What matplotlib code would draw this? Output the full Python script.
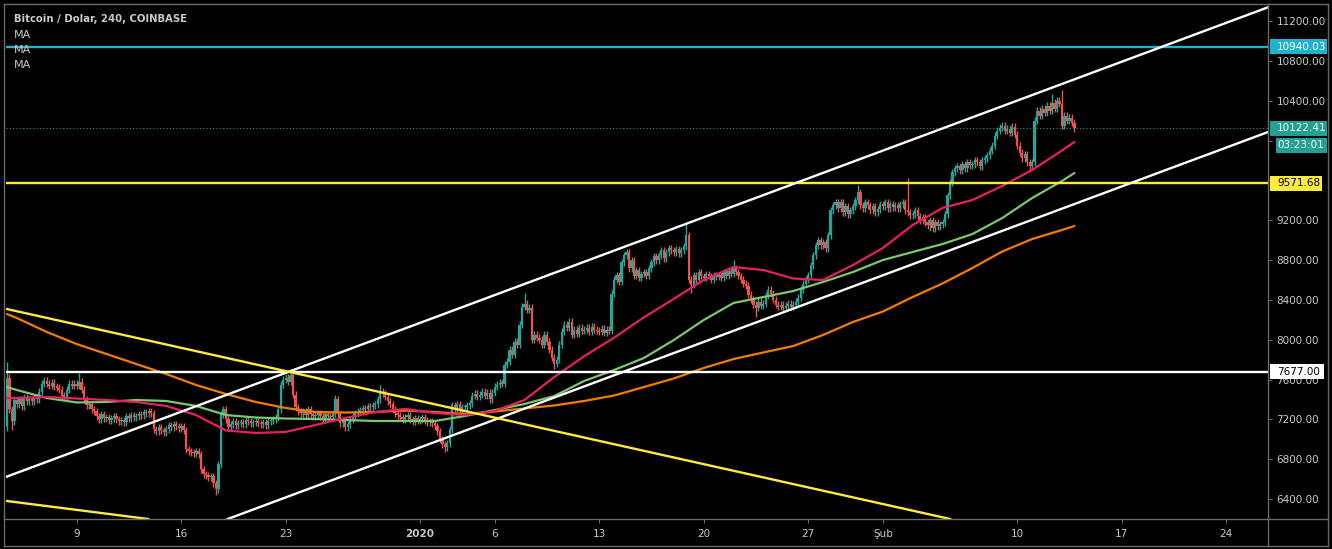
import matplotlib
matplotlib.use('Agg')
import matplotlib.pyplot as plt
import matplotlib.dates as mdates
from matplotlib.lines import Line2D
from matplotlib.patches import Rectangle
import numpy as np
import pandas as pd

# ---------------- data ----------------
first_open = 7120
closes_dec = [
    7620, 7300, 7180, 7390,                      # Dec 4 (from 08:00)
    7350, 7400, 7330, 7420, 7380, 7400,          # Dec 5
    7380, 7420, 7400, 7480, 7560, 7590,          # Dec 6
    7560, 7540, 7570, 7530, 7520, 7500,          # Dec 7
    7440, 7430, 7500, 7560, 7540, 7560,          # Dec 8
    7540, 7580, 7500, 7400, 7340, 7350,          # Dec 9
    7300, 7280, 7230, 7200, 7250, 7210,          # Dec 10
    7220, 7190, 7210, 7230, 7200, 7180,          # Dec 11
    7190, 7170, 7230, 7210, 7240, 7220,          # Dec 12
    7230, 7250, 7240, 7270, 7260, 7280,          # Dec 13
    7260, 7100, 7080, 7120, 7090, 7070,          # Dec 14
    7100, 7140, 7120, 7150, 7130, 7110,          # Dec 15
    7130, 7090, 6900, 6880, 6870, 6860,          # Dec 16
    6880, 6850, 6700, 6650, 6640, 6620,          # Dec 17
    6630, 6560, 6500, 6750, 7250, 7300,          # Dec 18
    7200, 7120, 7150, 7180, 7140, 7160,          # Dec 19
    7170, 7150, 7190, 7180, 7160, 7170,          # Dec 20
    7180, 7160, 7150, 7170, 7140, 7180,          # Dec 21
    7190, 7200, 7220, 7300, 7550, 7600,          # Dec 22
    7620, 7580, 7650, 7450, 7320, 7280,          # Dec 23
    7260, 7280, 7240, 7300, 7250, 7230,          # Dec 24
    7240, 7260, 7230, 7210, 7250, 7230,          # Dec 25
    7220, 7260, 7400, 7250, 7160, 7180,          # Dec 26
    7120, 7150, 7200, 7230, 7260, 7280,          # Dec 27
    7290, 7310, 7300, 7330, 7320, 7340,          # Dec 28
    7350, 7400, 7480, 7460, 7430, 7380,          # Dec 29
    7350, 7300, 7260, 7240, 7220, 7200,          # Dec 30
    7220, 7240, 7200, 7180, 7210, 7190,          # Dec 31
]
closes_jan = [
    7200, 7220, 7190, 7170, 7180, 7160,          # Jan 1
    7130, 7080, 7000, 6950, 6920, 6960,          # Jan 2
    7100, 7340, 7310, 7350, 7300, 7320,          # Jan 3
    7320, 7340, 7360, 7440, 7460, 7430,          # Jan 4
    7450, 7480, 7440, 7470, 7400, 7470,          # Jan 5
    7530, 7550, 7570, 7560, 7750, 7780,          # Jan 6
    7900, 7850, 7980, 7950, 8150, 8330,          # Jan 7
    8360, 8300, 8320, 8000, 8050, 8020,          # Jan 8
    8000, 7950, 8050, 7980, 7900, 7820,          # Jan 9
    7760, 7800, 7950, 8080, 8150, 8120,          # Jan 10
    8180, 8050, 8100, 8060, 8120, 8090,          # Jan 11
    8100, 8120, 8080, 8130, 8100, 8090,          # Jan 12
    8080, 8110, 8070, 8100, 8090, 8460,          # Jan 13
    8600, 8650, 8580, 8780, 8850, 8880,          # Jan 14
    8720, 8800, 8640, 8700, 8620, 8660,          # Jan 15
    8680, 8640, 8720, 8780, 8840, 8800,          # Jan 16
    8850, 8900, 8820, 8880, 8920, 8900,          # Jan 17
    8880, 8910, 8870, 8900, 8940, 9050,          # Jan 18
    8600, 8550, 8650, 8600, 8680, 8640,          # Jan 19
    8620, 8660, 8640, 8600, 8650, 8630,          # Jan 20
    8650, 8620, 8680, 8640, 8690, 8660,          # Jan 21
    8720, 8680, 8640, 8600, 8560, 8540,          # Jan 22
    8450, 8400, 8350, 8320, 8380, 8340,          # Jan 23
    8360, 8440, 8500, 8460, 8400, 8350,          # Jan 24
    8330, 8350, 8320, 8340, 8360, 8330,          # Jan 25
    8350, 8380, 8420, 8500, 8560, 8600,          # Jan 26
    8650, 8750, 8850, 8950, 9000, 8950,          # Jan 27
    8980, 8920, 9050, 9300, 9350, 9380,          # Jan 28
    9320, 9380, 9280, 9340, 9260, 9300,          # Jan 29
    9340, 9400, 9480, 9350, 9320, 9380,          # Jan 30
    9350, 9300, 9340, 9280, 9310, 9360,          # Jan 31
]
closes_feb = [
    9340, 9380, 9320, 9360, 9330, 9350,          # Feb 1
    9320, 9360, 9380, 9300, 9280, 9250,          # Feb 2
    9260, 9300, 9240, 9200, 9230, 9180,          # Feb 3
    9150, 9200, 9120, 9180, 9140, 9160,          # Feb 4
    9180, 9260, 9450, 9580, 9680, 9720,          # Feb 5
    9740, 9700, 9760, 9720, 9780, 9750,          # Feb 6
    9760, 9800, 9780, 9740, 9800, 9820,          # Feb 7
    9850, 9900, 9950, 10050, 10100, 10130,       # Feb 8
    10150, 10100, 10120, 10080, 10140, 10060,    # Feb 9
    9950, 9880, 9820, 9860, 9780, 9740,          # Feb 10
    9780, 10200, 10300, 10250, 10320, 10280,     # Feb 11
    10350, 10300, 10380, 10320, 10400, 10370,    # Feb 12
    10150, 10250, 10200, 10230, 10180, 10122.41, # Feb 13
]
typical_wick = 35
high_spikes = {
    '2019-12-04 08:00': 7780, '2019-12-09 04:00': 7665, '2019-12-23 08:00': 7700,
    '2019-12-26 08:00': 7450, '2019-12-29 08:00': 7545, '2020-01-08 00:00': 8470,
    '2020-01-18 20:00': 9180, '2020-01-22 00:00': 8800, '2020-01-30 08:00': 9550,
    '2020-02-02 16:00': 9620, '2020-02-12 08:00': 10470, '2020-02-13 00:00': 10510,
}
low_spikes = {
    '2019-12-04 16:00': 7090, '2019-12-18 08:00': 6440, '2020-01-02 16:00': 6870,
    '2020-01-10 00:00': 7710, '2020-01-19 04:00': 8470, '2020-01-23 12:00': 8230,
    '2020-02-04 04:00': 9090,
}

ma_dates = ['2019-12-04 08:00'] + [d.strftime('%Y-%m-%d 00:00') for d in
            pd.date_range('2019-12-05', '2020-02-13', freq='2D')] + ['2020-02-13 20:00']
ma_red = [7415, 7415, 7425, 7410, 7395, 7375, 7335, 7244, 7089, 7064, 7074, 7144, 7214,
          7274, 7305, 7264, 7244, 7284, 7395, 7626, 7835, 8020, 8225, 8410, 8600, 8730,
          8700, 8615, 8600, 8750, 8921, 9152, 9323, 9403, 9544, 9704, 9900, 9985]
ma_green = [7525, 7495, 7415, 7370, 7375, 7395, 7385, 7335, 7244, 7219, 7209, 7204, 7194,
            7184, 7184, 7184, 7234, 7294, 7355, 7435, 7586, 7696, 7817, 7997, 8198, 8369,
            8429, 8489, 8580, 8680, 8800, 8881, 8961, 9061, 9222, 9423, 9594, 9674]
ma_orange = [8258, 8218, 8078, 7957, 7857, 7756, 7656, 7546, 7455, 7375, 7315, 7274, 7269,
             7274, 7289, 7274, 7254, 7279, 7310, 7340, 7385, 7440, 7525, 7611, 7716, 7806,
             7872, 7937, 8048, 8178, 8283, 8429, 8565, 8720, 8886, 9011, 9102, 9142]

level_cyan = 10940.03
level_yellow = 9571.68
level_white = 7677.00
last_price = 10122.41
countdown = '03:23:01'

channel_upper = [('2019-12-19 00:00', 7444), ('2020-02-09 00:00', 10345)]
channel_lower = [('2020-01-02 00:00', 6974), ('2020-02-13 00:00', 9316)]
yellow_upper = [('2019-12-05 00:00', 8286), ('2020-02-05 00:00', 6217)]
yellow_lower = [('2019-12-05 00:00', 6368), ('2019-12-14 00:00', 6196)]

y_ticks = list(range(6400, 11201, 400))
y_hidden = [9600, 10000]          # covered by the price labels in the reference
x_tick_dates = ['2019-12-09', '2019-12-16', '2019-12-23', '2020-01-01', '2020-01-06',
                '2020-01-13', '2020-01-20', '2020-01-27', '2020-02-01', '2020-02-10',
                '2020-02-17', '2020-02-24']
x_tick_labels = ['9', '16', '23', '2020', '6', '13', '20', '27', 'Şub', '10', '17', '24']
title = 'Bitcoin / Dolar, 240, COINBASE'
legend_names = ['MA', 'MA', 'MA']

# ---------------- styling ----------------
W, H = 1332, 549
BG = '#000000'
GRID = '#6a6a6a'
TXT = '#c9c9c9'
UP = '#26a69a'
DOWN = '#ef5350'
C_RED = '#e91e63'
C_GREEN = '#7bc86c'
C_ORANGE = '#f57c00'
C_CYAN = '#1fb4cc'
C_YEL = '#ffeb3b'
C_TEAL = '#22a094'
FONT = 'DejaVu Sans'

plt.rcParams['font.family'] = [FONT]
fig = plt.figure(figsize=(W / 100, H / 100), dpi=100, facecolor=BG)
ax = fig.add_axes([6 / W, 1 - 519 / H, (1268 - 6) / W, (519 - 6) / H])
ax.set_facecolor(BG)

t0 = pd.Timestamp('2020-01-01')
ax.set_xlim(mdates.date2num(t0 + pd.Timedelta(days=-27.73)),
            mdates.date2num(t0 + pd.Timedelta(days=56.80)))
ax.set_ylim(6200, 11351)

# candles
closes = np.array(closes_dec + closes_jan + closes_feb, dtype=float)
times = pd.date_range('2019-12-04 08:00', periods=len(closes), freq='4h')
opens = np.concatenate([[first_open], closes[:-1]])
highs = np.maximum(opens, closes) + typical_wick
lows = np.minimum(opens, closes) - typical_wick
for ts, v in high_spikes.items():
    highs[times.get_loc(pd.Timestamp(ts))] = v
for ts, v in low_spikes.items():
    lows[times.get_loc(pd.Timestamp(ts))] = v
xs = mdates.date2num(times)
cols = np.where(closes >= opens, UP, DOWN)
ax.vlines(xs, lows, highs, colors=cols, linewidth=1.0, zorder=3)
body_h = np.maximum(np.abs(closes - opens), 12)
ax.bar(xs, body_h, bottom=np.minimum(opens, closes), width=0.15, color=cols,
       linewidth=0, zorder=4)

# moving averages
mx = mdates.date2num(pd.to_datetime(ma_dates, format='%Y-%m-%d %H:%M'))
ax.plot(mx, ma_orange, color=C_ORANGE, lw=1.6, zorder=5, solid_capstyle='round')
ax.plot(mx, ma_green, color=C_GREEN, lw=1.6, zorder=5, solid_capstyle='round')
ax.plot(mx, ma_red, color=C_RED, lw=1.6, zorder=5, solid_capstyle='round')

# horizontal levels
ax.axhline(level_cyan, color=C_CYAN, lw=1.7, zorder=6)
ax.axhline(level_yellow, color=C_YEL, lw=1.7, zorder=6)
ax.axhline(level_white, color='white', lw=1.7, zorder=6)
ax.axhline(last_price, color=C_TEAL, lw=0.8, ls=(0, (1, 2)), zorder=6)

# trend lines
def trend(pts, color):
    (d1, p1), (d2, p2) = pts
    ax.axline((mdates.date2num(pd.Timestamp(d1)), p1),
              (mdates.date2num(pd.Timestamp(d2)), p2), color=color, lw=1.7, zorder=7)

trend(channel_upper, 'white')
trend(channel_lower, 'white')
trend(yellow_upper, C_YEL)
trend(yellow_lower, C_YEL)

# axes ticks
for s in ax.spines.values():
    s.set_visible(False)
ax.yaxis.tick_right()
ax.set_yticks(y_ticks)
ax.set_yticklabels(['' if v in y_hidden else f'{v:.2f}' for v in y_ticks])
ax.set_xticks(mdates.date2num(pd.to_datetime(x_tick_dates)))
ax.set_xticklabels(x_tick_labels)
ax.tick_params(axis='y', colors=TXT, labelsize=7.5, length=3, width=0.8, pad=3,
               color=GRID)
ax.tick_params(axis='x', colors=TXT, labelsize=7.5, length=3, width=0.8, pad=4,
               color=GRID)
for lab in ax.get_xticklabels():
    if lab.get_text() == '2020':
        lab.set_fontweight('bold')

# frame lines
def fline(x0, y0, x1, y1, c=GRID, lw=1.0):
    fig.add_artist(Line2D([x0 / W, x1 / W], [1 - y0 / H, 1 - y1 / H], color=c, lw=lw,
                          transform=fig.transFigure))

fline(4, 4, 1328, 4)
fline(4, 546, 1328, 546)
fline(4, 4, 4, 546)
fline(1328, 4, 1328, 546)
fline(1268, 4, 1268, 546)
fline(4, 519, 1328, 519)

# price labels on the right axis
def price_px(p):
    return ax.transData.transform((ax.get_xlim()[0], p))[1]

def box_label(yc, text, bg, fg, x0=1270, x1=1327, h=15):
    fig.add_artist(Rectangle((x0 / W, (yc - h / 2) / H), (x1 - x0) / W, h / H,
                             facecolor=bg, edgecolor='none', transform=fig.transFigure,
                             zorder=10))
    fig.text(1277 / W, yc / H, text, color=fg, fontsize=7.5, ha='left', va='center',
             zorder=11)

box_label(price_px(level_cyan), f'{level_cyan:.2f}', C_CYAN, 'white')
yl = price_px(last_price)
box_label(yl, f'{last_price:.2f}', C_TEAL, 'white')
box_label(yl - 17, countdown, C_TEAL, 'white', x0=1276)
box_label(price_px(level_yellow), f'{level_yellow:.2f}', C_YEL, 'black', x1=1322)
box_label(price_px(level_white), f'{level_white:.2f}', 'white', 'black', x1=1324)

# title and legend
fig.text(14 / W, 1 - 19 / H, title, color=TXT, fontsize=7.3, fontweight='bold',
         ha='left', va='center')
for i, name in enumerate(legend_names):
    fig.text(14 / W, 1 - (35 + 15 * i) / H, name, color=TXT, fontsize=8, ha='left',
             va='center')

fig.savefig('out.png', dpi=100, facecolor=BG)
